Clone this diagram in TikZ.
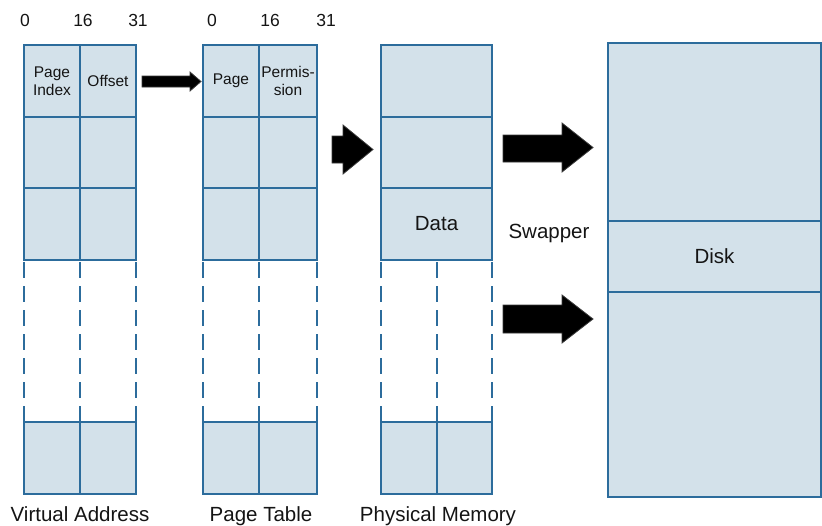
\documentclass[tikz,border=0pt]{standalone}
\usepackage{fontspec}
\usetikzlibrary{calc}
\setmainfont{Liberation Sans}
\definecolor{bdr}{HTML}{2C6C9C}
\definecolor{cellfill}{HTML}{D3E1EA}
\definecolor{txt}{HTML}{141414}
\definecolor{arrowedge}{HTML}{3A3A3A}
\tikzset{
  cell/.style={draw=bdr, fill=cellfill, line width=1.5pt, inner sep=0pt, outer sep=0pt, anchor=north west, align=center, text=txt},
  dashseg/.style={draw=bdr, line width=1.6pt, line cap=butt},
  blockarrow/.style={fill=black, draw=arrowedge, line width=0.8pt, line join=miter},
  small/.style={font=\fontsize{15.5}{18.5}\selectfont, text=txt},
  big/.style={font=\fontsize{20.5}{24}\selectfont, text=txt},
  digit/.style={font=\fontsize{17.5}{20}\selectfont, text=txt, anchor=base},
}
% a broken column line hanging below anchor #1
\newcommand\brokencol[1]{%
  \foreach \t in {0,...,6}{%
    \draw[dashseg] ($(#1)+(0,2+24*\t)$) -- ($(#1)+(0,18+24*\t)$);}}
\begin{document}
\begin{tikzpicture}[x=1pt, y=-1pt]
\useasboundingbox (0,0) rectangle (822,525);

% ---------- Virtual Address ----------
\node[cell, small, minimum width=56pt, minimum height=72pt] (va1l) at (24,45) {Page\\Index};
\node[cell, small, minimum width=56pt, minimum height=72pt] (va1r) at (80,45) {Offset};
\node[cell, minimum width=56pt, minimum height=71pt] (va2l) at (24,117) {};
\node[cell, minimum width=56pt, minimum height=71pt] (va2r) at (80,117) {};
\node[cell, minimum width=56pt, minimum height=72pt] (va3l) at (24,188) {};
\node[cell, minimum width=56pt, minimum height=72pt] (va3r) at (80,188) {};
\node[cell, minimum width=56pt, minimum height=72pt] (vabl) at (24,422) {};
\node[cell, minimum width=56pt, minimum height=72pt] (vabr) at (80,422) {};
\brokencol{va3l.south west}
\brokencol{va3l.south east}
\brokencol{va3r.south east}

% ---------- Page Table ----------
\node[cell, small, minimum width=56pt, minimum height=72pt] (pt1l) at (203,45) {Page};
\node[cell, small, minimum width=58pt, minimum height=72pt] (pt1r) at (259,45) {Permis-\\sion};
\node[cell, minimum width=56pt, minimum height=71pt] (pt2l) at (203,117) {};
\node[cell, minimum width=58pt, minimum height=71pt] (pt2r) at (259,117) {};
\node[cell, minimum width=56pt, minimum height=72pt] (pt3l) at (203,188) {};
\node[cell, minimum width=58pt, minimum height=72pt] (pt3r) at (259,188) {};
\node[cell, minimum width=56pt, minimum height=72pt] (ptbl) at (203,422) {};
\node[cell, minimum width=58pt, minimum height=72pt] (ptbr) at (259,422) {};
\brokencol{pt3l.south west}
\brokencol{pt3l.south east}
\brokencol{pt3r.south east}

% ---------- Physical Memory ----------
\node[cell, minimum width=111pt, minimum height=72pt] (pm1) at (381,45) {};
\node[cell, minimum width=111pt, minimum height=71pt] (pm2) at (381,117) {};
\node[cell, big, minimum width=111pt, minimum height=72pt] (pm3) at (381,188) {Data};
\node[cell, minimum width=56pt, minimum height=72pt] (pmbl) at (381,422) {};
\node[cell, minimum width=55pt, minimum height=72pt] (pmbr) at (437,422) {};
\coordinate (pmmid) at (437,260);
\brokencol{pm3.south west}
\brokencol{pmmid}
\brokencol{pm3.south east}

% ---------- Disk ----------
\node[cell, minimum width=213pt, minimum height=178pt] (dk1) at (608,43) {};
\node[cell, big, minimum width=213pt, minimum height=71pt] (dk2) at (608,221) {Disk};
\node[cell, minimum width=213pt, minimum height=205pt] (dk3) at (608,292) {};

% ---------- Labels ----------
\node[digit] (d1) at (25,26) {0};
\node[digit] (d2) at (83,26) {16};
\node[digit] (d3) at (138,26) {31};
\node[digit] (d4) at (212,26) {0};
\node[digit] (d5) at (270,26) {16};
\node[digit] (d6) at (326,26) {31};
\node[big, anchor=base] (lva) at (80,521) {Virtual Address};
\node[big, anchor=base] (lpt) at (261,521) {Page Table};
\node[big, anchor=base] (lpm) at (438,521) {Physical Memory};
\node[big] (swap) at (549,233) {Swapper};

% ---------- Block arrows ----------
\filldraw[blockarrow] (142,76) -- (190,76) -- (190,72) -- (201,81.5) -- (190,91) -- (190,87) -- (142,87) -- cycle;
\filldraw[blockarrow] (332,136) -- (343,136) -- (343,125) -- (373,149.5) -- (343,174) -- (343,163) -- (332,163) -- cycle;
\filldraw[blockarrow] (503,135) -- (562,135) -- (562,123) -- (593,147.5) -- (562,172) -- (562,162) -- (503,162) -- cycle;
\filldraw[blockarrow] (503,305) -- (562,305) -- (562,295) -- (593,319) -- (562,343) -- (562,333) -- (503,333) -- cycle;
\end{tikzpicture}
\end{document}
